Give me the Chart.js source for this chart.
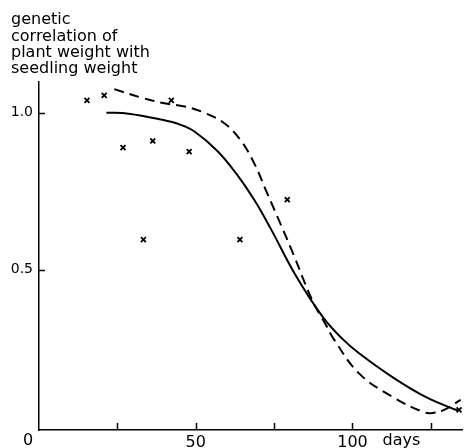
<!DOCTYPE html>
<html>
<head>
<meta charset="utf-8">
<script src="https://cdn.jsdelivr.net/npm/chart.js@4/dist/chart.umd.min.js"></script>
<style>
  html, body { margin: 0; padding: 0; background: #fff; }
  #wrap { width: 468px; height: 448px; }
</style>
</head>
<body>
<div id="wrap"><canvas id="myChart"></canvas></div>
<script>
// observed genetic correlations (crosses)
var obsDays = [15.3, 20.8, 26.8, 33.3, 36.3, 42.2, 47.9, 64.1, 79.2, 134];
var obsCorr = [1.039, 1.055, 0.889, 0.596, 0.910, 1.039, 0.876, 0.596, 0.723, 0.054];

// solid curve
var solidDays = [21.5, 28.6, 39, 45, 49.6, 56.9, 63, 68.5, 73.7, 82, 90.5, 96.8, 102, 112.5, 123, 132.5, 134];
var solidCorr = [1.0, 0.997, 0.978, 0.962, 0.94, 0.878, 0.805, 0.725, 0.635, 0.48, 0.35, 0.28, 0.235, 0.16, 0.097, 0.056, 0.052];

// dashed curve
var dashDays = [24, 33, 40, 46.4, 52.7, 59, 64.2, 68.5, 72.6, 76, 81, 87.3, 91.5, 94, 102, 112.5, 123, 126, 129.2, 134.5];
var dashCorr = [1.075, 1.047, 1.03, 1.02, 1.0, 0.967, 0.914, 0.842, 0.748, 0.67, 0.553, 0.40, 0.325, 0.28, 0.171, 0.097, 0.046, 0.045, 0.054, 0.086];

var xTicks = [25, 50, 75, 100, 125];
var xLabels = { 50: '50', 100: '100' };
var yTicks = [0.5, 1.0];
var titleLines = ['genetic', 'correlation of', 'plant weight with', 'seedling weight'];

function pts(xs, ys) {
  return xs.map(function (x, i) { return { x: x, y: ys[i] }; });
}

var FONT = '"DejaVu Sans", sans-serif';

// inside tick marks, the "0" origin label and the "days" unit
var axisExtras = {
  id: 'axisExtras',
  afterDraw: function (chart) {
    var c = chart.ctx, xs = chart.scales.x, ys = chart.scales.y;
    var bottom = chart.chartArea.bottom, left = chart.chartArea.left;
    c.save();
    c.strokeStyle = '#000';
    c.lineWidth = 1.5;
    xTicks.forEach(function (t) {
      var px = Math.round(xs.getPixelForValue(t)) + 0.5;
      c.beginPath(); c.moveTo(px, bottom); c.lineTo(px, bottom - 7); c.stroke();
    });
    yTicks.forEach(function (t) {
      var py = Math.round(ys.getPixelForValue(t)) + 0.5;
      c.beginPath(); c.moveTo(left, py); c.lineTo(left + 6, py); c.stroke();
    });
    c.fillStyle = '#000';
    c.font = '16px ' + FONT;
    c.textBaseline = 'middle';
    c.textAlign = 'center';
    c.fillText('0', xs.getPixelForValue(0) - 11, 441);
    c.textAlign = 'left';
    c.fillText('days', xs.getPixelForValue(100) + 30, 441);
    c.restore();
  }
};

new Chart(document.getElementById('myChart').getContext('2d'), {
  type: 'scatter',
  data: {
    datasets: [
      {
        data: pts(obsDays, obsCorr),
        pointStyle: 'crossRot',
        pointRadius: 3.5,
        borderColor: '#000',
        borderWidth: 1.8,
        showLine: false
      },
      {
        data: pts(solidDays, solidCorr),
        showLine: true,
        borderColor: '#000',
        borderWidth: 2,
        pointRadius: 0,
        tension: 0.4
      },
      {
        data: pts(dashDays, dashCorr),
        showLine: true,
        borderColor: '#000',
        borderWidth: 2,
        borderDash: [10, 6],
        pointRadius: 0,
        tension: 0.4
      }
    ]
  },
  options: {
    responsive: true,
    maintainAspectRatio: false,
    animation: false,
    layout: { padding: { left: 11, right: 0, top: 0, bottom: 0 } },
    plugins: {
      legend: { display: false },
      tooltip: { enabled: false },
      title: {
        display: true,
        text: titleLines,
        align: 'start',
        color: '#000',
        font: { family: FONT, size: 16, weight: 'normal', lineHeight: 1.02 },
        padding: { top: 12, bottom: 4 }
      }
    },
    scales: {
      x: {
        type: 'linear',
        min: 0,
        max: 135,
        grid: { display: false, drawTicks: false, tickLength: 0 },
        border: { display: true, color: '#000', width: 1.5 },
        afterBuildTicks: function (s) {
          s.ticks = [0].concat(xTicks).map(function (v) { return { value: v }; });
        },
        afterFit: function (s) { s.height = 18; },
        ticks: {
          color: '#000',
          padding: 3,
          maxRotation: 0,
          autoSkip: false,
          font: { family: FONT, size: 16 },
          callback: function (v) { return xLabels[v] || ''; }
        }
      },
      y: {
        type: 'linear',
        min: -0.01,
        max: 1.1,
        grid: { display: false, drawTicks: false, tickLength: 0 },
        border: { display: true, color: '#000', width: 1.5 },
        afterBuildTicks: function (s) {
          s.ticks = yTicks.map(function (v) { return { value: v }; });
        },
        afterFit: function (s) { s.width = 28; },
        ticks: {
          color: '#000',
          padding: 6,
          font: { family: FONT, size: 14 },
          callback: function (v) { return v.toFixed(1); }
        }
      }
    }
  },
  plugins: [axisExtras]
});
</script>
</body>
</html>
